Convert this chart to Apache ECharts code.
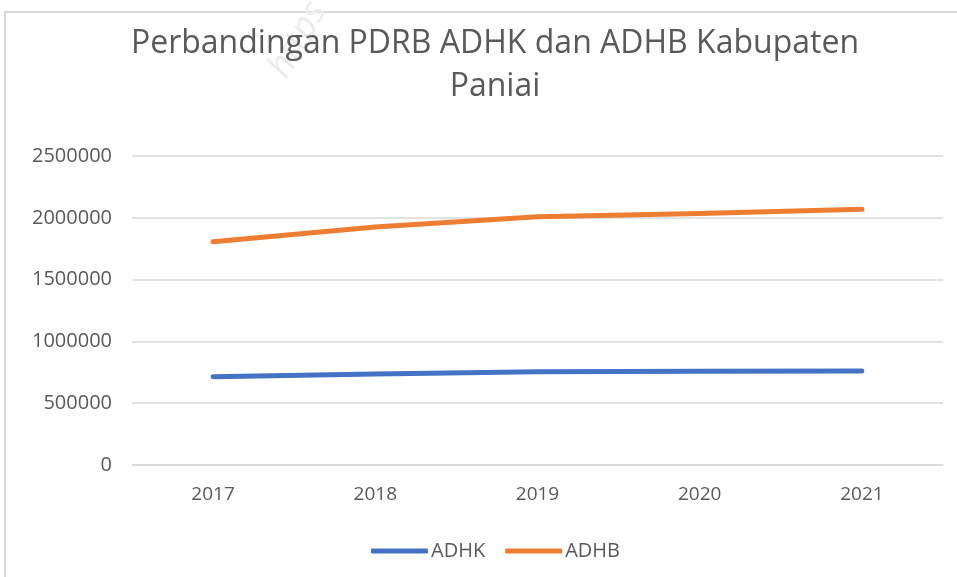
<!DOCTYPE html>
<html>
<head>
<meta charset="utf-8">
<script src="https://cdn.jsdelivr.net/npm/echarts@6/dist/echarts.min.js"></script>
<style>
  html, body { margin: 0; padding: 0; background: #fff; overflow: hidden; }
  #frame { position: absolute; left: 4px; top: 11px; width: 980px; height: 600px; border: 2px solid #d9d9d9; }
  #chart { position: absolute; left: 0; top: 0; width: 957px; height: 577px; }
</style>
</head>
<body>
<div id="frame"></div>
<div id="chart"></div>
<script>
// data
const years = ['2017', '2018', '2019', '2020', '2021']
const adhk = [714000, 737000, 755000, 758000, 761000]
const adhb = [1806000, 1926000, 2008000, 2035000, 2069000]
const seriesNames = ['ADHK', 'ADHB']

const textGray = '#595959'
const chart = echarts.init(document.getElementById('chart'))

chart.setOption({
  backgroundColor: 'transparent',
  animation: false,
  title: {
    text: 'Perbandingan PDRB ADHK dan ADHB Kabupaten\nPaniai',
    left: 490,
    textAlign: 'center',
    top: 17,
    textStyle: {
      color: textGray,
      fontFamily: 'Open Sans',
      fontWeight: 'normal',
      fontSize: 32,
      lineHeight: 43
    }
  },
  graphic: [{
    // faint watermark
    type: 'text',
    left: 262,
    top: -4,
    rotation: Math.PI / 3,
    style: { text: 'https', fill: '#ebebeb', font: 'italic 36px "Open Sans"' }
  }],
  grid: { left: 132, right: 14, top: 156, bottom: 112 },
  legend: {
    data: seriesNames,
    top: 536,
    left: 366,
    icon: 'roundRect',
    itemWidth: 57,
    itemHeight: 5,
    itemGap: 20,
    textStyle: { color: textGray, fontSize: 20, fontFamily: 'Open Sans', padding: [0, 0, 0, -2] }
  },
  xAxis: {
    type: 'category',
    data: years,
    boundaryGap: true,
    axisLine: { lineStyle: { color: '#d9d9d9', width: 1.5 } },
    axisTick: { show: false },
    axisLabel: { color: textGray, fontSize: 19, fontFamily: 'Open Sans', margin: 20 }
  },
  yAxis: {
    type: 'value',
    min: 0,
    max: 2500000,
    interval: 500000,
    axisLine: { show: false },
    axisTick: { show: false },
    splitLine: { lineStyle: { color: '#d9d9d9', width: 1.5 } },
    axisLabel: {
      color: textGray,
      fontSize: 20,
      fontFamily: 'Open Sans',
      margin: 20,
      formatter: v => String(v)
    }
  },
  series: [
    {
      name: seriesNames[0],
      type: 'line',
      data: adhk,
      showSymbol: false,
      color: '#4472c4',
      lineStyle: { width: 5, cap: 'round', join: 'round' }
    },
    {
      name: seriesNames[1],
      type: 'line',
      data: adhb,
      showSymbol: false,
      color: '#ed7d31',
      lineStyle: { width: 5, cap: 'round', join: 'round' }
    }
  ]
})
</script>
</body>
</html>
